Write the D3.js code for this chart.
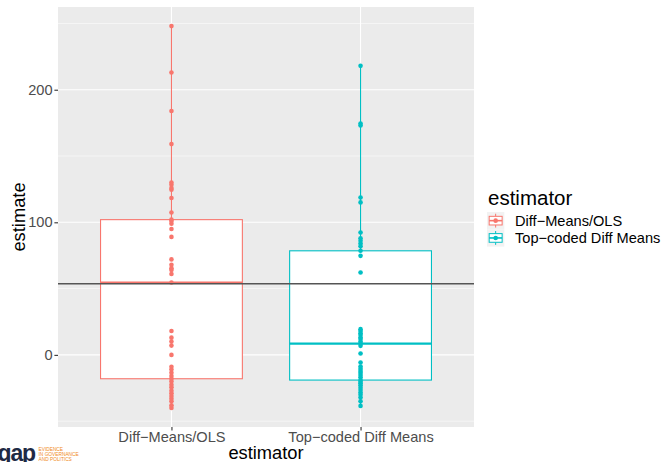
<!DOCTYPE html>
<html>
<head>
<meta charset="utf-8">
<script src="https://cdn.jsdelivr.net/npm/d3@7"></script>
<style>
  html, body { margin: 0; padding: 0; background: #ffffff; }
  svg { display: block; font-family: "Liberation Sans", Arial, sans-serif; }
</style>
</head>
<body>
<svg id="chart" width="663" height="462"></svg>
<script>
// Estimator labels (x categories)
const categories = ["Diff\u2212Means/OLS", "Top\u2212coded Diff Means"];

// Simulated estimates for each estimator
const diffMeansOLS = [
  -40, -38, -35, -33, -31, -29, -27, -24.5, -22.5, -20,
  -18, -16, -13.5, -11, -9, 0, 7, 10, 13, 18,
  54.6, 61, 64, 65.4, 68, 72, 89, 95, 99, 101,
  102, 107.4, 118.3, 124.5, 125.8, 128.3, 130, 159, 184, 213, 248
];
const topCodedDiffMeans = [
  -38.5, -35, -32.2, -30, -28.4, -26.5, -24.7, -23, -21.4, -20.2,
  -19, -16.8, -15.1, -13.5, -12.1, -10.5, -8.8, -5.8, 1, 6.8,
  8.5, 10, 12, 13.1, 15, 16.4, 18, 19.4, 62.1, 74.7,
  78.5, 82, 84, 86, 88, 92.3, 115, 118.7, 173, 174.5, 218
];

// True effect reference line
const trueEffect = 53.6;

// Axis ticks
const yTicks = [0, 100, 200];
const yMinorTicks = [-50, 50, 150, 250];

const colors = ["#F8766D", "#00BFC4"];
const seriesValues = [diffMeansOLS, topCodedDiffMeans];

const svg = d3.select("#chart");
const panel = { left: 58, right: 474, top: 7, bottom: 427 };

const all = seriesValues.flat();
const lo = d3.min(all), hi = d3.max(all);
const pad = (hi - lo) * 0.05;

const x = d3.scalePoint().domain(categories).range([panel.left, panel.right]).padding(0.6);
const y = d3.scaleLinear().domain([lo - pad, hi + pad]).range([panel.bottom, panel.top]);
const boxW = x.step() * 0.75;

// Panel background and grid
svg.append("rect")
  .attr("x", panel.left).attr("y", panel.top)
  .attr("width", panel.right - panel.left).attr("height", panel.bottom - panel.top)
  .attr("fill", "#EBEBEB");

const grid = svg.append("g");
grid.selectAll(".minor").data(yMinorTicks).join("line")
  .attr("x1", panel.left).attr("x2", panel.right)
  .attr("y1", d => y(d)).attr("y2", d => y(d))
  .attr("stroke", "#ffffff").attr("stroke-width", 0.55);
grid.selectAll(".major").data(yTicks).join("line")
  .attr("x1", panel.left).attr("x2", panel.right)
  .attr("y1", d => y(d)).attr("y2", d => y(d))
  .attr("stroke", "#ffffff").attr("stroke-width", 1.1);
grid.selectAll(".vmajor").data(categories).join("line")
  .attr("x1", d => x(d)).attr("x2", d => x(d))
  .attr("y1", panel.top).attr("y2", panel.bottom)
  .attr("stroke", "#ffffff").attr("stroke-width", 1.1);

// Box plot statistics (Tukey whiskers)
function boxStats(values) {
  const s = values.slice().sort(d3.ascending);
  const q1 = d3.quantile(s, 0.25), med = d3.quantile(s, 0.5), q3 = d3.quantile(s, 0.75);
  const iqr = q3 - q1;
  const wLo = d3.min(s.filter(v => v >= q1 - 1.5 * iqr));
  const wHi = d3.max(s.filter(v => v <= q3 + 1.5 * iqr));
  return { q1, med, q3, wLo, wHi };
}

const boxes = svg.append("g");
categories.forEach((cat, i) => {
  const st = boxStats(seriesValues[i]);
  const cx = x(cat);
  const g = boxes.append("g").attr("stroke", colors[i]);
  g.append("line").attr("x1", cx).attr("x2", cx)
    .attr("y1", y(st.q3)).attr("y2", y(st.wHi)).attr("stroke-width", 1.1);
  g.append("line").attr("x1", cx).attr("x2", cx)
    .attr("y1", y(st.q1)).attr("y2", y(st.wLo)).attr("stroke-width", 1.1);
  g.append("rect")
    .attr("x", cx - boxW / 2).attr("width", boxW)
    .attr("y", y(st.q3)).attr("height", y(st.q1) - y(st.q3))
    .attr("fill", "#ffffff").attr("stroke-width", 1.1);
  g.append("line").attr("x1", cx - boxW / 2).attr("x2", cx + boxW / 2)
    .attr("y1", y(st.med)).attr("y2", y(st.med)).attr("stroke-width", 2.1);
});

// Individual estimates
const pts = svg.append("g");
categories.forEach((cat, i) => {
  pts.selectAll(null).data(seriesValues[i]).join("circle")
    .attr("cx", x(cat)).attr("cy", d => y(d)).attr("r", 2.3)
    .attr("fill", colors[i]);
});

// True effect line
svg.append("line")
  .attr("x1", panel.left).attr("x2", panel.right)
  .attr("y1", y(trueEffect)).attr("y2", y(trueEffect))
  .attr("stroke", "#555555").attr("stroke-width", 1.4);

// Axes
const yAxis = svg.append("g").attr("transform", `translate(${panel.left},0)`)
  .call(d3.axisLeft(y).tickValues(yTicks).tickSize(3.6).tickPadding(1.8));
const xAxis = svg.append("g").attr("transform", `translate(0,${panel.bottom})`)
  .call(d3.axisBottom(x).tickSize(3.6).tickPadding(1.5));
[yAxis, xAxis].forEach(a => {
  a.select(".domain").remove();
  a.selectAll(".tick line").attr("stroke", "#333333").attr("stroke-width", 1.1);
  a.selectAll(".tick text").attr("fill", "#4D4D4D")
    .style("font-size", "14.6px").style("font-family", "Liberation Sans, Arial, sans-serif");
});

// Axis titles
svg.append("text").attr("x", (panel.left + panel.right) / 2).attr("y", 459)
  .attr("text-anchor", "middle").style("font-size", "18.3px").attr("fill", "#000")
  .text("estimator");
svg.append("text")
  .attr("transform", `translate(24.5,${(panel.top + panel.bottom) / 2}) rotate(-90)`)
  .attr("text-anchor", "middle").style("font-size", "18.3px").attr("fill", "#000")
  .text("estimate");

// Legend
const legend = svg.append("g").attr("transform", "translate(487,0)");
legend.append("text").attr("x", 1).attr("y", 205)
  .style("font-size", "20.5px").attr("fill", "#000").text("estimator");
categories.forEach((cat, i) => {
  const ky = 212 + i * 17.3;
  const k = legend.append("g").attr("transform", `translate(0,${ky})`);
  const s = 17.3;
  k.append("rect").attr("width", s).attr("height", s).attr("fill", "#F2F2F2");
  k.append("line").attr("x1", s / 2).attr("x2", s / 2).attr("y1", s * 0.1).attr("y2", s * 0.25)
    .attr("stroke", colors[i]).attr("stroke-width", 1);
  k.append("line").attr("x1", s / 2).attr("x2", s / 2).attr("y1", s * 0.75).attr("y2", s * 0.9)
    .attr("stroke", colors[i]).attr("stroke-width", 1);
  k.append("rect").attr("x", s * 0.125).attr("y", s * 0.25)
    .attr("width", s * 0.75).attr("height", s * 0.5)
    .attr("fill", "#ffffff").attr("stroke", colors[i]).attr("stroke-width", 1);
  k.append("line").attr("x1", s * 0.125).attr("x2", s * 0.875).attr("y1", s / 2).attr("y2", s / 2)
    .attr("stroke", colors[i]).attr("stroke-width", 1.6);
  k.append("circle").attr("cx", s / 2).attr("cy", s / 2).attr("r", 2.3).attr("fill", colors[i]);
  legend.append("text").attr("x", 28).attr("y", ky + s / 2 + 5.2)
    .style("font-size", "14.6px").attr("fill", "#000").text(cat);
});

// EGAP logo
const logo = svg.append("g");
logo.append("text").attr("x", -14).attr("y", 461)
  .style("font-size", "23px").style("font-weight", "bold")
  .style("font-family", "Liberation Sans, Arial, sans-serif")
  .attr("fill", "#1E2A44").attr("letter-spacing", "-1.2").text("egap");
["EVIDENCE", "IN GOVERNANCE", "AND POLITICS"].forEach((t, i) => {
  logo.append("text").attr("x", 38.5).attr("y", 450.5 + i * 5.4)
    .style("font-size", "4.8px")
    .attr("fill", "#F08A24").text(t);
});
</script>
</body>
</html>
